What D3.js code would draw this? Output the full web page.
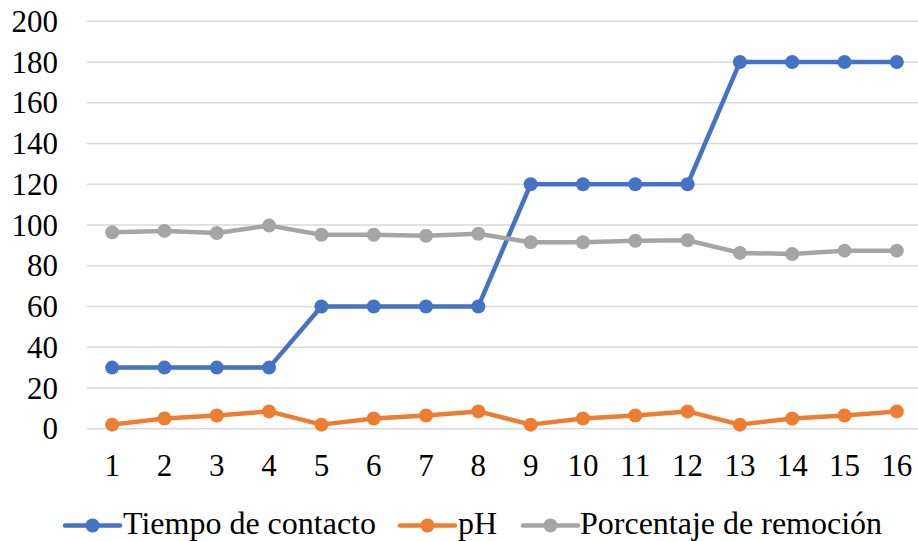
<!DOCTYPE html>
<html><head><meta charset="utf-8">
<script src="https://cdn.jsdelivr.net/npm/d3@7"></script>
</head><body style="margin:0">
<svg id="c" width="918" height="541"></svg>
<script>
const categories = [1,2,3,4,5,6,7,8,9,10,11,12,13,14,15,16];
const tiempo = [30,30,30,30,60,60,60,60,120,120,120,120,180,180,180,180];
const ph = [2,5,6.5,8.5,2,5,6.5,8.5,2,5,6.5,8.5,2,5,6.5,8.5];
const remocion = [96.4,97.1,96.1,99.7,95.2,95.2,94.7,95.7,91.5,91.5,92.3,92.5,86.3,85.8,87.4,87.4];
const yTicks = [0,20,40,60,80,100,120,140,160,180,200];
const seriesNames = ["Tiempo de contacto","pH","Porcentaje de remoción"];
const seriesColors = ["#4472C4","#ED7D31","#A5A5A5"];

const svg = d3.select("#c");
const x = d3.scaleBand().domain(categories).range([86, 923]);
const y = d3.scaleLinear().domain([0,200]).range([428.7, 21.3]);

svg.append("g").selectAll("line").data(yTicks).join("line")
  .attr("x1", 87).attr("x2", 923)
  .attr("y1", d => y(d)).attr("y2", d => y(d))
  .attr("stroke", "#d9d9d9").attr("stroke-width", 1.5);

// y tick labels
svg.append("g").selectAll("text").data(yTicks).join("text")
  .attr("x", 58).attr("y", d => y(d)).attr("dy", "0.34em")
  .attr("text-anchor", "end").attr("font-size", 31)
  .style("font-family", '"Liberation Serif"')
  .text(d => d);

// x tick labels
svg.append("g").selectAll("text").data(categories).join("text")
  .attr("x", d => x(d) + x.bandwidth()/2).attr("y", 476)
  .attr("text-anchor", "middle").attr("font-size", 31)
  .style("font-family", '"Liberation Serif"')
  .text(d => d);

const data = [tiempo, ph, remocion];
const cx = d => x(d) + x.bandwidth()/2;
const line = d3.line().x((d,i) => cx(categories[i])).y(d => y(d));
data.forEach((vals, k) => {
  const g = svg.append("g");
  g.append("path").attr("d", line(vals)).attr("fill", "none")
    .attr("stroke", seriesColors[k]).attr("stroke-width", 4.5).attr("stroke-linejoin", "round");
  g.selectAll("circle").data(vals).join("circle")
    .attr("cx", (d,i) => cx(categories[i])).attr("cy", d => y(d)).attr("r", 7)
    .attr("fill", seriesColors[k]);
});

const legendItems = [
  {x0: 65, tx: 123},
  {x0: 400, tx: 458},
  {x0: 523, tx: 580}
];
const lg = svg.append("g");
seriesNames.forEach((name, k) => {
  const it = legendItems[k];
  lg.append("line").attr("x1", it.x0).attr("x2", it.x0 + 55).attr("y1", 525.5).attr("y2", 525.5)
    .attr("stroke", seriesColors[k]).attr("stroke-width", 4.5).attr("stroke-linecap", "round");
  lg.append("circle").attr("cx", it.x0 + 27.5).attr("cy", 525.5).attr("r", 7).attr("fill", seriesColors[k]);
  lg.append("text").attr("x", it.tx).attr("y", 534).attr("font-size", 32)
    .style("font-family", '"Liberation Serif"').text(name);
});
</script>
</body></html>
